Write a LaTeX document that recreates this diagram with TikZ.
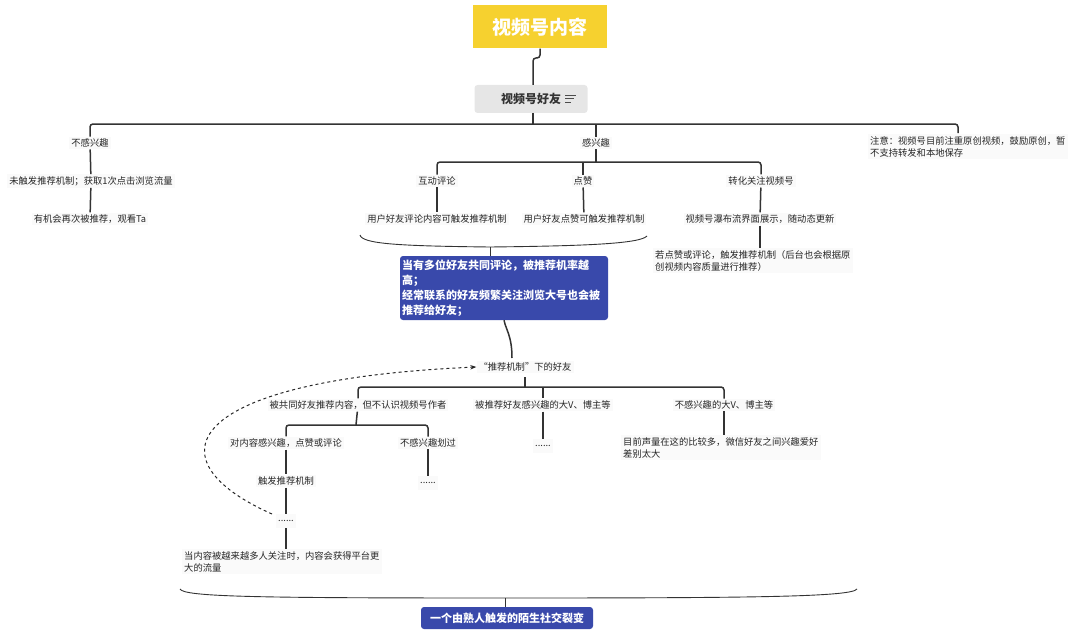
\documentclass[tikz,border=0pt]{standalone}
\usepackage{fontspec}
\setmainfont{Noto Sans CJK SC}
\usetikzlibrary{positioning}
\usetikzlibrary{arrows.meta}
\definecolor{titleyellow}{HTML}{F6D12F}
\definecolor{boxblue}{HTML}{3949AB}
\definecolor{boxgray}{HTML}{E6E6E6}

\begin{document}
\begin{tikzpicture}[x=1pt, y=-1pt,
    every node/.style={font=\fontsize{9.3}{12}\selectfont, inner sep=2pt},
    leaf/.style={fill=gray!4, text=black!85},
    note/.style={leaf, align=left, anchor=north west},
    bluebox/.style={fill=boxblue, text=white, rounded corners=3pt, font=\bfseries\fontsize{11}{15}\selectfont},
    link/.style={draw=black!80, line width=1.5pt, rounded corners=3pt},
    brace/.style={draw=black!80, line width=0.9pt}
  ]
  \useasboundingbox (0,0) rectangle (1080,634);

  % top level
  \node[fill=titleyellow, text=white, minimum width=134pt, minimum height=43pt,
    font=\bfseries\fontsize{19}{21}\selectfont] (top) at (540,27) {视频号内容};
  \node[fill=boxgray, rounded corners=3pt, minimum width=113pt, minimum height=28pt,
    font=\bfseries\fontsize{12}{14}\selectfont, text=black!80] (friend) at (531,99) {视频号好友\hspace{26pt}};
  \foreach \w [count=\i] in {11,9,6}
    \draw[black!70, line width=0.8pt] (565,{91.5+3.5*\i}) -- ++(\w,0);
  \draw[link] (top.south) -- (540,58) -- (533,58) -- (533,85);

  \node[leaf] (nointerest) at (90,143) {不感兴趣};
  \node[leaf] (interest) at (596,143) {感兴趣};
  \node[note] (notice) at (868,134) {注意：视频号目前注重原创视频，鼓励原创，暂\\不支持转发和本地保存};
  \draw[link] (nointerest.north) -- (90,124) -- (958,124) -- (958,133);
  \draw[link] (533,113) -- (533,124);
  \draw[link] (596,124) -- (interest.north);

  % not interested
  \node[leaf] (noclick) at (91,181) {未触发推荐机制；获取1次点击浏览流量};
  \node[leaf] (again) at (90,219) {有机会再次被推荐，观看Ta};
  \draw[link] (nointerest) -- (noclick);
  \draw[link] (noclick) -- (again);

  % interested
  \node[leaf] (comment) at (437,181) {互动评论};
  \node[leaf] (like) at (583,181) {点赞};
  \node[leaf] (follow) at (761,181) {转化关注视频号};
  \draw[link] (comment.north) -- (437,162) -- (761,162) -- (follow.north);
  \draw[link] (583,162) -- (like.north);
  \draw[link] (interest) -- (596,162);
  \node[leaf] (commenttrig) at (437,219) {用户好友评论内容可触发推荐机制};
  \node[leaf] (liketrig) at (584,219) {用户好友点赞可触发推荐机制};
  \node[leaf] (waterfall) at (760,219) {视频号瀑布流界面展示，随动态更新};
  \node[note] (iflike) at (653,248) {若点赞或评论，触发推荐机制（后台也会根据原\\创视频内容质量进行推荐）};
  \draw[link] (comment) -- (commenttrig);
  \draw[link] (like) -- (liketrig);
  \draw[link] (follow) -- (waterfall);
  \draw[link] (waterfall) -- (760,248);

  % summary brace 1
  \draw[brace] (360,235) .. controls (362,244) and (400,246) .. (490,247)
    .. controls (580,246) and (640,244) .. (647,236);
  \node[bluebox, align=left, text width=204pt, minimum height=64pt] (many) at (504,288)
    {当有多位好友共同评论，被推荐机率越\\高；\\经常联系的好友频繁关注浏览大号也会被\\推荐给好友；};
  \draw[brace] (490,247) -- (490,256);

  % recommended friends
  \node[leaf] (rec) at (525,367) {“推荐机制”下的好友};
  \draw[link, rounded corners=0pt] (many.south) .. controls (506,330) and (512,336) .. (512,358);
  \node[leaf] (common) at (358,405) {被共同好友推荐内容，但不认识视频号作者};
  \node[leaf] (bigv) at (543,405) {被推荐好友感兴趣的大V、博主等};
  \node[leaf] (nobigv) at (724,405) {不感兴趣的大V、博主等};
  \draw[link] (common.north) -- (358,387) -- (724,387) -- (nobigv.north);
  \draw[link] (543,387) -- (bigv.north);
  \draw[link] (525,377) -- (525,387);

  \node[leaf] (likeit) at (286,443) {对内容感兴趣，点赞或评论};
  \node[leaf] (skip) at (428,443) {不感兴趣划过};
  \draw[link] (likeit.north) -- (286,425) -- (428,425) -- (skip.north);
  \draw[link] (common) -- (356,425);
  \node[leaf, minimum height=14pt] (dots1) at (543,446) {......};
  \draw[link] (bigv) -- (dots1);
  \node[note] (noisy) at (621,435) {目前声量在这的比较多，微信好友之间兴趣爱好\\差别太大};
  \draw[link] (nobigv) -- (724,435);

  \node[leaf] (trigger) at (286,481) {触发推荐机制};
  \node[leaf, minimum height=14pt] (dots2) at (428,483) {......};
  \draw[link] (likeit) -- (trigger);
  \draw[link] (skip) -- (dots2);
  \node[leaf, minimum height=14pt] (dots3) at (286,521) {......};
  \draw[link] (trigger) -- (dots3);
  \node[note] (more) at (182,549) {当内容被越来越多人关注时，内容会获得平台更\\大的流量};
  \draw[link] (dots3) -- (286,549);
  \draw[dashed, line width=1pt, black!85, -{Stealth[length=6pt]}]
    (272,514) .. controls (150,460) and (180,380) .. (rec.west);

  % summary brace 2
  \draw[brace] (180,589) .. controls (184,597) and (260,598) .. (505,598)
    .. controls (750,598) and (852,597) .. (857,589);
  \draw[brace] (505,598) -- (505,607);
  \node[bluebox, minimum width=172pt, minimum height=22pt] (fission) at (507,618) {一个由熟人触发的陌生社交裂变};
\end{tikzpicture}
\end{document}
